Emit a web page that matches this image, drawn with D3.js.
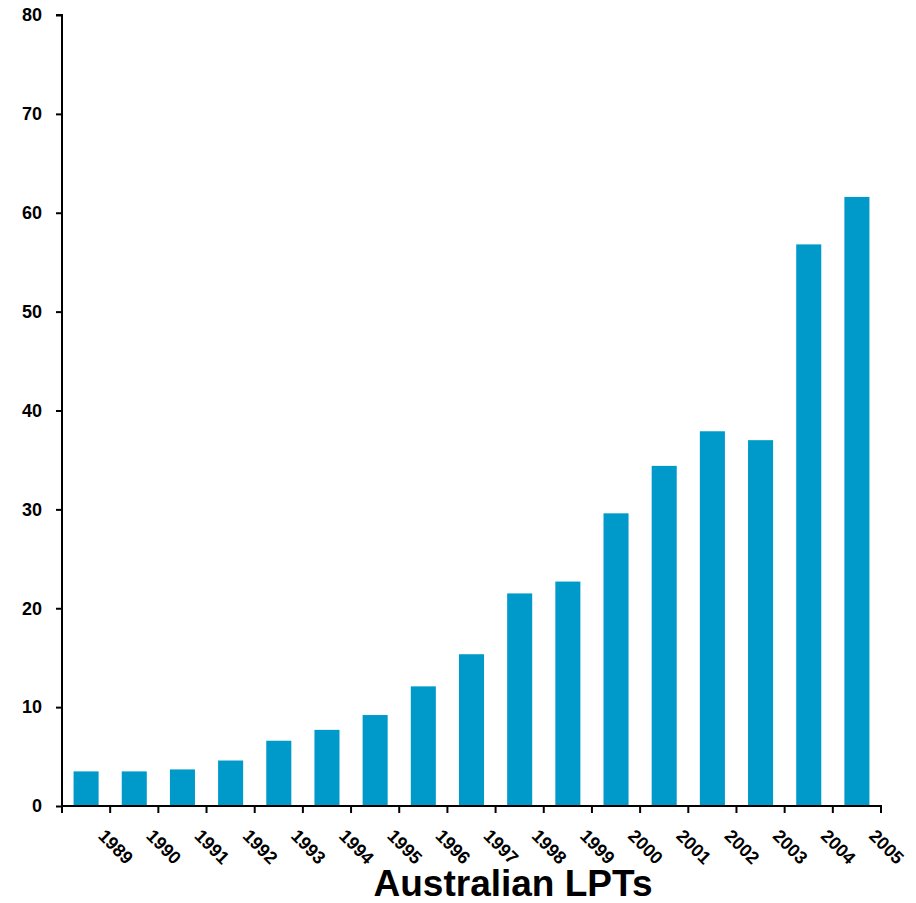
<!DOCTYPE html>
<html>
<head>
<meta charset="utf-8">
<script src="https://cdn.jsdelivr.net/npm/d3@7/dist/d3.min.js"></script>
<style>
  html, body { margin: 0; padding: 0; background: #fff; }
  svg { display: block; }
  text { font-family: "Liberation Sans", Arial, sans-serif; }
</style>
</head>
<body>
<svg id="chart" width="916" height="903"></svg>
<script>
// Number of Australian listed property trusts, by year
const years = ["1989", "1990", "1991", "1992", "1993", "1994", "1995", "1996", "1997",
               "1998", "1999", "2000", "2001", "2002", "2003", "2004", "2005"];
const values = [3.5, 3.5, 3.7, 4.6, 6.6, 7.7, 9.2, 12.1, 15.35,
                21.5, 22.7, 29.6, 34.4, 37.9, 37.0, 56.8, 61.6];
const yTicks = [0, 10, 20, 30, 40, 50, 60, 70, 80];
const title = "Australian LPTs";

const svg = d3.select("#chart");
const plotLeft = 62, plotRight = 881, plotTop = 15, plotBottom = 806;

const x = d3.scaleBand().domain(years).range([plotLeft, plotRight]).paddingInner(0.48).paddingOuter(0.24);
const y = d3.scaleLinear().domain([0, 80]).range([plotBottom, plotTop]);

// bars
svg.append("g").selectAll("rect").data(values).join("rect")
  .attr("x", (d, i) => x(years[i]))
  .attr("y", d => y(d))
  .attr("width", x.bandwidth())
  .attr("height", d => y(0) - y(d))
  .attr("fill", "#009aca");

// y axis
const yAxis = svg.append("g").attr("transform", `translate(${plotLeft},0)`)
  .call(d3.axisLeft(y).tickValues(yTicks).tickSize(6).tickPadding(14).tickFormat(d3.format("d")));
yAxis.select(".domain").attr("stroke", "#000").attr("stroke-width", 2).attr("d", `M-6,${plotTop}H0V${plotBottom}`);
yAxis.selectAll(".tick line").attr("stroke", "#000").attr("stroke-width", 2);
yAxis.selectAll(".tick text").attr("font-size", 18).attr("font-weight", "bold").attr("fill", "#000");

// x axis: ticks on the band boundaries, each label sitting at the right edge of its bar's band
const step = (plotRight - plotLeft) / years.length;
const bounds = d3.range(years.length + 1).map(i => plotLeft + i * step);
const xg = svg.append("g");
xg.append("line").attr("x1", plotLeft).attr("x2", plotRight + 1).attr("y1", plotBottom).attr("y2", plotBottom)
  .attr("stroke", "#000").attr("stroke-width", 2);
xg.selectAll("line.tick").data(bounds).join("line").attr("class", "tick")
  .attr("x1", d => d).attr("x2", d => d).attr("y1", plotBottom).attr("y2", plotBottom + 7)
  .attr("stroke", "#000").attr("stroke-width", 2);
xg.selectAll("text").data(years).join("text")
  .attr("transform", (d, i) => `translate(${bounds[i + 1] - 13},${plotBottom + 31}) rotate(45)`)
  .attr("font-size", 18).attr("font-weight", "bold").attr("fill", "#000")
  .text(d => d);

// title
svg.append("text").attr("x", 513).attr("y", 896).attr("text-anchor", "middle")
  .attr("font-size", 37).attr("font-weight", "bold").attr("fill", "#000").text(title);
</script>
</body>
</html>
